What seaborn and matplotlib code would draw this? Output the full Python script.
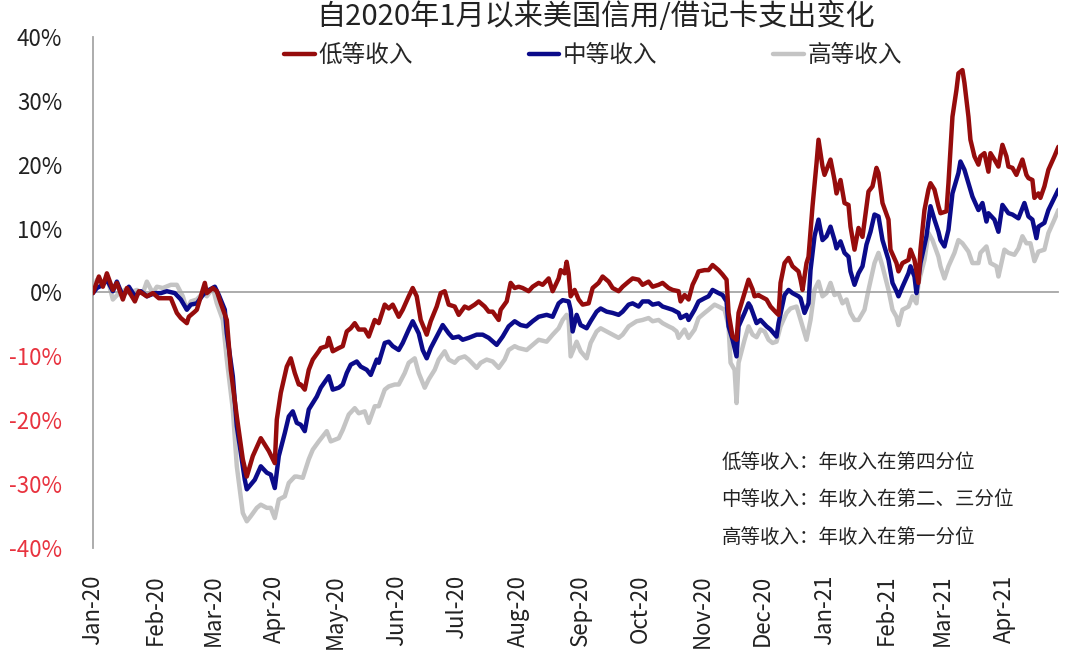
"""
自2020年1月以来美国信用/借记卡支出变化 — 按收入分组的三条曲线
"""

import numpy as np
import pandas as pd
import matplotlib
matplotlib.use("Agg")
import matplotlib.pyplot as plt
import matplotlib.dates as mdates
import seaborn as sns

# ── data (days since 2020-01-01, % change) ─────────────────────────────────
START = pd.Timestamp("2020-01-01")

low_days = [0, 3, 5, 7, 10, 12, 15, 17, 21, 23, 27, 30, 33, 37, 39, 42, 44, 47, 48, 51,
            52, 54, 56, 57, 60, 62, 64, 67, 69, 72, 75, 77, 80, 84, 87, 88, 91, 92, 94, 97,
            99, 101, 103, 104, 106, 108, 110, 113, 114, 117, 118, 120, 123, 125, 127, 129, 131, 133, 136, 138,
            141, 143, 146, 148, 150, 153, 155, 158, 160, 162, 164, 167, 169, 172, 174, 176, 178, 181, 183, 186,
            188, 191, 193, 196, 198, 200, 203, 204, 207, 209, 211, 213, 215, 218, 220, 223, 225, 228, 230, 233,
            234, 236, 237, 238, 239, 241, 243, 245, 248, 250, 253, 255, 258, 260, 263, 265, 268, 270, 273, 275,
            278, 280, 283, 285, 288, 290, 293, 294, 296, 298, 300, 302, 303, 306, 308, 310, 313, 315, 317, 318,
            320, 322, 323, 326, 328, 330, 331, 333, 334, 337, 339, 342, 343, 344, 346, 348, 350, 353, 354, 355,
            357, 358, 360, 362, 363, 365, 366, 368, 369, 371, 372, 374, 376, 378, 379, 381, 383, 385, 387, 388,
            390, 392, 393, 395, 398, 399, 402, 403, 405, 408, 409, 411, 413, 414, 416, 418, 419, 421, 423, 424,
            427, 428, 430, 432, 433, 435, 436, 438, 439, 441, 443, 444, 446, 448, 449, 451, 453, 455, 457, 458,
            460, 462, 463, 465, 467, 468, 470, 471, 473, 474, 476, 478, 481, 483]
low_pct = [-0.1, 2.5, 0.9, 3.0, 0.4, 1.5, -1.1, 0.7, -1.4, 0.2, -0.6, -0.1, -0.9, -0.9, -0.9, -3.2, -4.0, -4.8, -3.8, -3.0,
           -2.7, -0.6, 1.5, -0.1, 0.7, 0.2, -1.7, -4.3, -12.1, -19.4, -26.1, -28.8, -25.6, -22.8, -24.3, -24.8, -26.7, -19.9, -15.7, -11.6,
           -10.3, -12.6, -14.4, -14.4, -15.2, -12.1, -10.5, -9.2, -8.7, -8.4, -7.1, -9.2, -8.7, -8.4, -6.1, -5.6, -4.8, -5.8, -5.8, -6.9,
           -4.3, -4.8, -1.9, -2.5, -1.9, -3.8, -2.7, -0.6, 0.7, -0.6, -4.3, -6.6, -4.5, -2.2, -0.1, 0.2, -1.9, -2.2, -3.5, -2.2,
           -2.5, -1.9, -1.4, -2.2, -3.0, -3.0, -4.3, -2.7, -1.4, 1.5, 0.7, 0.9, 0.7, 0.2, 0.9, 1.5, 1.2, 2.2, 0.2, 2.2,
           3.5, 3.0, 4.8, 3.0, -0.6, 0.4, -1.1, -1.9, -1.7, 0.7, 1.5, 2.5, 1.7, 0.7, 0.2, 0.9, 1.7, 2.2, 2.0, 1.2,
           1.7, 0.9, 1.2, 1.5, 0.7, 0.4, 0.2, -1.4, -0.4, -1.1, 1.2, 2.5, 3.3, 3.5, 3.5, 4.3, 3.5, 2.8, 2.0, -3.2,
           -6.9, -7.4, -3.2, -0.1, 2.0, 0.5, -0.6, -0.4, -0.6, -1.1, -2.2, -3.2, -3.5, 1.5, 4.6, 5.4, 4.1, 3.3, 2.0, 0.4,
           4.6, 5.6, 13.5, 20.2, 23.9, 19.7, 18.4, 20.0, 20.8, 17.6, 15.5, 17.6, 14.0, 13.7, 10.3, 6.7, 10.1, 8.7, 13.5, 15.8,
           16.6, 19.5, 18.7, 14.0, 11.4, 6.7, 4.6, 3.3, 4.6, 5.1, 6.7, 5.1, 1.5, 6.7, 12.9, 16.1, 17.1, 16.1, 13.5, 12.4,
           12.7, 17.1, 27.5, 31.7, 34.3, 34.8, 32.8, 27.5, 23.9, 21.3, 20.0, 21.3, 21.8, 18.9, 21.8, 20.8, 19.7, 23.1, 21.3, 19.7,
           19.5, 18.4, 19.2, 20.8, 18.4, 17.9, 17.6, 14.8, 15.5, 14.8, 16.6, 19.2, 21.3, 22.8]

mid_days = [0, 2, 5, 7, 10, 12, 15, 18, 21, 24, 27, 31, 34, 37, 41, 44, 47, 49, 52, 55,
            57, 61, 63, 66, 67, 70, 72, 76, 77, 81, 84, 87, 89, 91, 93, 96, 98, 100, 102, 104,
            106, 108, 112, 114, 118, 120, 123, 125, 127, 129, 132, 134, 137, 139, 142, 143, 146, 148, 150, 153,
            155, 158, 160, 163, 165, 167, 169, 172, 175, 178, 180, 183, 185, 188, 192, 195, 198, 202, 205, 208,
            211, 214, 217, 220, 223, 227, 230, 233, 235, 238, 239, 240, 242, 244, 247, 249, 252, 254, 257, 260,
            263, 265, 268, 270, 273, 275, 278, 280, 283, 285, 288, 290, 293, 294, 297, 298, 301, 303, 306, 308,
            310, 313, 315, 317, 318, 320, 322, 323, 326, 328, 329, 332, 334, 337, 339, 342, 343, 346, 348, 350,
            353, 354, 356, 358, 359, 361, 363, 365, 367, 369, 371, 372, 374, 376, 378, 379, 381, 383, 385, 387,
            389, 391, 393, 395, 398, 400, 402, 403, 405, 408, 409, 411, 412, 414, 417, 419, 421, 423, 424, 426,
            428, 430, 433, 434, 436, 438, 440, 443, 445, 447, 448, 451, 453, 455, 458, 460, 463, 464, 466, 468,
            470, 472, 473, 476, 478, 481, 483]
mid_pct = [-0.1, 0.7, 1.2, 2.0, 0.2, 1.7, -0.6, 0.9, -0.6, 0.2, -0.6, -0.1, -0.1, 0.2, -0.1, -1.1, -2.7, -1.9, -1.7, -0.4,
           0.2, 0.9, -0.4, -2.7, -6.4, -13.1, -20.9, -29.3, -30.8, -29.3, -27.2, -28.2, -28.5, -30.6, -25.6, -22.0, -19.4, -18.6, -20.4, -20.7,
           -21.7, -18.3, -16.3, -14.9, -13.1, -15.2, -14.9, -14.4, -12.6, -11.3, -10.8, -11.6, -12.1, -12.9, -10.5, -11.0, -7.9, -7.7, -8.4, -9.0,
           -7.9, -5.8, -4.5, -6.4, -9.0, -10.3, -8.7, -6.9, -5.1, -6.4, -7.1, -6.9, -7.4, -7.1, -6.6, -6.6, -7.1, -8.2, -6.9, -5.3,
           -4.5, -5.1, -5.3, -4.5, -3.8, -3.5, -3.8, -1.7, -1.2, -1.4, -2.7, -6.1, -3.5, -5.1, -5.6, -4.5, -3.0, -2.5, -3.0, -3.2,
           -3.5, -3.0, -1.9, -1.7, -2.2, -1.4, -1.4, -1.9, -1.7, -2.2, -2.5, -2.7, -3.2, -4.0, -3.5, -4.3, -2.7, -1.4, -0.9, -0.6,
           0.4, -0.1, -0.4, -1.4, -5.3, -7.4, -10.0, -5.3, -3.2, -1.7, -2.2, -4.8, -4.3, -5.3, -5.8, -6.9, -4.8, -0.4, 0.4, -0.1,
           -0.6, -0.9, -3.2, -1.7, 3.5, 8.8, 11.4, 8.2, 8.8, 10.3, 8.2, 6.9, 8.0, 6.2, 5.6, 3.3, 1.2, 3.0, 4.1, 7.5,
           9.5, 12.2, 11.9, 8.2, 5.1, 1.5, 0.2, -0.6, 0.9, 3.0, 4.1, 2.5, -0.1, 4.6, 8.8, 13.5, 11.4, 9.5, 8.2, 7.2,
           9.8, 15.5, 18.7, 20.5, 19.2, 17.1, 15.0, 12.9, 14.0, 11.1, 12.4, 11.4, 9.5, 13.7, 12.4, 12.2, 11.6, 12.4, 14.0, 11.9,
           11.4, 8.5, 10.3, 10.9, 12.9, 14.8, 16.1]

high_days = [0, 2, 5, 7, 10, 13, 16, 18, 22, 25, 27, 30, 32, 35, 39, 42, 45, 47, 49, 52,
             55, 57, 60, 62, 65, 67, 70, 72, 75, 77, 79, 82, 84, 87, 89, 91, 93, 96, 98, 101,
             102, 105, 108, 110, 113, 117, 119, 123, 125, 128, 131, 133, 136, 138, 141, 143, 146, 148, 151, 153,
             156, 158, 161, 163, 166, 168, 171, 173, 176, 178, 181, 183, 186, 188, 192, 194, 197, 200, 203, 206,
             208, 211, 213, 217, 220, 223, 227, 230, 233, 235, 237, 238, 239, 242, 244, 247, 249, 252, 254, 257,
             260, 263, 265, 268, 272, 275, 278, 280, 283, 285, 288, 290, 292, 293, 296, 298, 301, 303, 306, 308,
             311, 313, 316, 318, 319, 321, 322, 323, 326, 328, 330, 332, 334, 336, 338, 340, 342, 344, 347, 349,
             352, 353, 355, 357, 359, 361, 363, 365, 367, 369, 371, 373, 375, 377, 379, 381, 383, 386, 388, 391,
             393, 395, 398, 400, 402, 403, 405, 408, 410, 412, 413, 416, 418, 420, 423, 424, 426, 428, 431, 433,
             435, 438, 440, 443, 444, 447, 449, 452, 453, 456, 458, 461, 463, 465, 467, 469, 471, 473, 476, 478,
             481, 483]
high_pct = [0.2, 2.0, 1.5, 2.5, -1.1, -0.1, 0.4, -0.1, 0.4, -0.1, 1.7, -0.1, 0.9, 0.7, 1.2, 1.2, -0.6, -2.7, -1.4, -1.1,
            -0.1, -0.6, 0.7, -1.7, -4.3, -10.5, -18.3, -27.2, -34.5, -35.8, -35.0, -33.7, -33.2, -33.7, -33.7, -35.3, -32.4, -31.9, -29.8, -28.8,
            -28.8, -29.0, -26.1, -24.6, -23.3, -21.7, -23.3, -22.8, -21.5, -19.1, -18.1, -18.9, -18.6, -20.4, -17.8, -17.8, -15.2, -14.7, -14.4, -14.4,
            -12.6, -11.0, -10.3, -12.6, -14.9, -13.6, -12.1, -10.5, -9.2, -10.5, -11.0, -10.3, -10.0, -10.5, -11.8, -11.0, -10.5, -10.8, -11.8, -10.5,
            -9.0, -8.4, -8.7, -9.0, -8.2, -7.4, -7.7, -6.6, -5.6, -4.3, -3.5, -4.3, -10.0, -7.7, -9.2, -10.3, -7.9, -6.1, -5.6, -6.1,
            -6.6, -7.1, -6.6, -5.3, -4.5, -4.3, -4.0, -4.5, -4.3, -4.8, -5.3, -5.6, -6.1, -7.1, -5.8, -7.1, -5.8, -4.0, -3.2, -2.7,
            -1.9, -2.2, -2.7, -5.3, -11.0, -12.1, -17.3, -11.0, -7.4, -5.3, -6.6, -7.0, -5.8, -6.1, -7.4, -7.9, -7.7, -5.3, -3.2, -2.5,
            -2.2, -3.2, -5.3, -7.4, -4.3, 0.4, 1.7, -0.6, -0.1, 1.5, -0.4, -0.1, -1.7, -1.1, -3.2, -4.3, -4.3, -2.7, 0.4, 4.6,
            6.2, 4.1, 0.4, -2.7, -3.8, -5.1, -2.7, -2.2, -0.6, -1.7, 1.5, 5.1, 9.3, 8.2, 5.6, 4.1, 2.2, 4.1, 6.2, 8.2,
            7.7, 6.4, 4.6, 4.6, 6.2, 7.2, 4.6, 4.1, 2.5, 6.7, 6.2, 5.9, 6.9, 8.8, 7.7, 7.7, 4.9, 6.4, 6.7, 9.3,
            11.4, 12.9]

GROUPS = ["低等收入", "中等收入", "高等收入"]
COLORS = {"低等收入": "#960c0c", "中等收入": "#0b0b8a", "高等收入": "#c4c4c4"}
NOTES = ["低等收入：年收入在第四分位",
         "中等收入：年收入在第二、三分位",
         "高等收入：年收入在第一分位"]

frames = []
for name, days, vals in zip(GROUPS, [low_days, mid_days, high_days],
                            [low_pct, mid_pct, high_pct]):
    frames.append(pd.DataFrame({
        "date": START + pd.to_timedelta(days, unit="D"),
        "pct": vals,
        "group": name,
    }))
df = pd.concat(frames, ignore_index=True)

# ── style ──────────────────────────────────────────────────────────────────
sns.set_style("white")
plt.rcParams["font.family"] = ["Noto Sans CJK SC", "DejaVu Sans"]
AXIS_GREY = "#a6a6a6"

fig = plt.figure(figsize=(10.8, 6.58), dpi=100)
ax = fig.add_axes([0.086, 0.167, 0.894, 0.777])

# grey first so red sits on top
for name, z in [("高等收入", 2), ("中等收入", 3), ("低等收入", 4)]:
    sns.lineplot(data=df[df["group"] == name], x="date", y="pct", color=COLORS[name],
                 linewidth=3.2, estimator=None, label=name, zorder=z, ax=ax)

# ── axes ───────────────────────────────────────────────────────────────────
ax.set_xlim(START, df["date"].max())
ax.set_ylim(-40, 40)
yticks = list(range(-40, 41, 10))
ax.set_yticks(yticks)
ax.set_yticklabels([f"{v}%" for v in yticks])
for lab, v in zip(ax.get_yticklabels(), yticks):
    lab.set_color("#e8333f" if v < 0 else "#222222")
ax.tick_params(axis="y", direction="in", length=8, width=1.2, color=AXIS_GREY,
               labelsize=16, pad=22)

for s in ["top", "right"]:
    ax.spines[s].set_visible(False)
for s in ["left", "bottom"]:
    ax.spines[s].set_color(AXIS_GREY)
    ax.spines[s].set_linewidth(1.3)
ax.spines["bottom"].set_position(("data", 0))

months = pd.date_range("2020-01-01", "2021-04-01", freq="MS")
ax.set_xticks(months)
ax.tick_params(axis="x", direction="in", length=8, width=1.2, color=AXIS_GREY,
               labelbottom=False)
ax.set_xlabel("")
ax.set_ylabel("")

# month labels sit under the plot, tick marks stay on the zero line
sec = ax.secondary_xaxis(0)
sec.set_xticks(mdates.date2num(months))
sec.set_xticklabels([m.strftime("%b-%y") for m in months])
sec.spines["bottom"].set_visible(False)
sec.tick_params(axis="x", length=0, labelsize=16, rotation=90, pad=19,
                labelcolor="#222222")

# ── legend, title, notes ──────────────────────────────────────────────────
handles, labels = ax.get_legend_handles_labels()
order = [labels.index(g) for g in GROUPS]
ax.get_legend().remove()
fig.legend([handles[i] for i in order], [labels[i] for i in order],
           loc="center", bbox_to_anchor=(0.549, 0.916), ncol=3, frameon=False,
           fontsize=17, handlelength=1.3, handletextpad=0.15, columnspacing=4.9)

fig.text(0.551, 0.974, "自2020年1月以来美国信用/借记卡支出变化",
         ha="center", va="center", fontsize=21, color="#222222")

for i, note in enumerate(NOTES):
    fig.text(0.668, 1 - (462 + 37.5 * i) / 658, note, ha="left", va="center",
             fontsize=14, color="#222222")

fig.savefig("out.png", dpi=100)
